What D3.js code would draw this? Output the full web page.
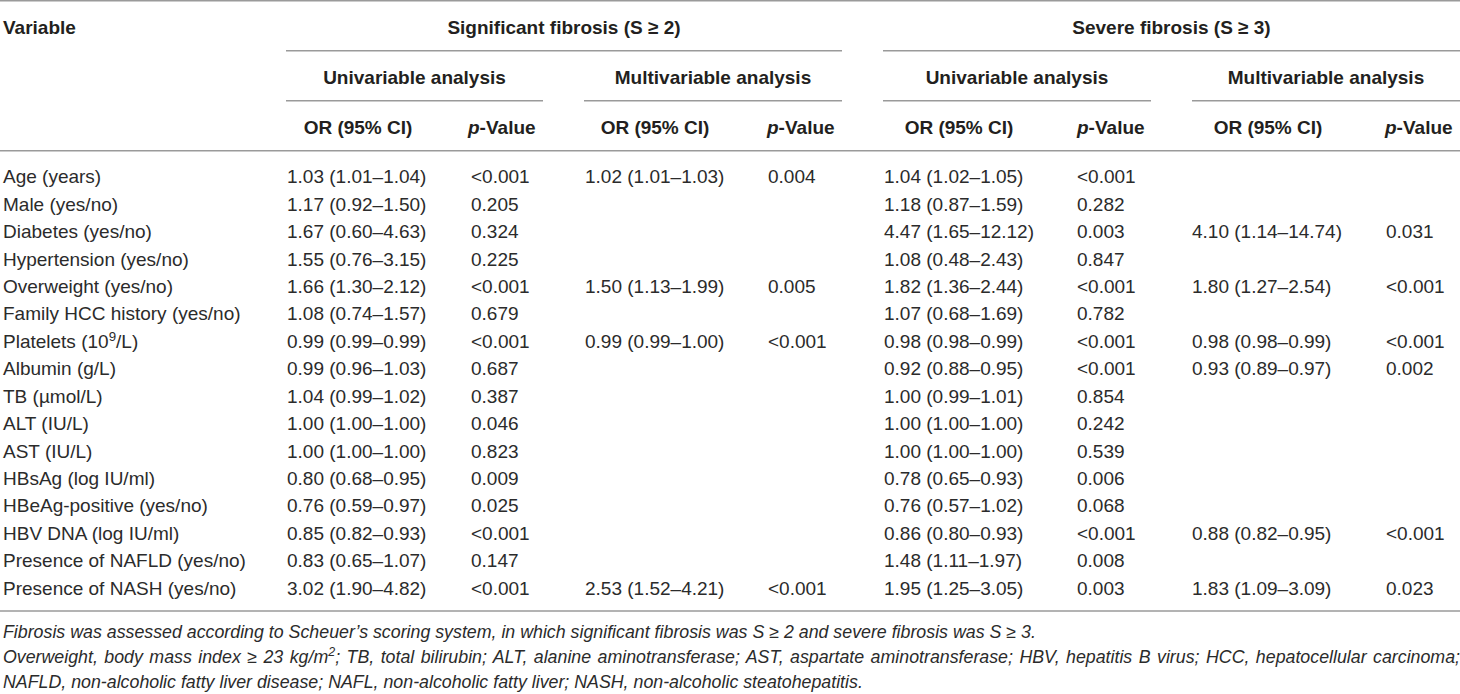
<!DOCTYPE html>
<html lang="en">
<head>
  <meta charset="UTF-8">
  <title>fibrosis table</title>
  <style>
    body {
      margin: 0;
      background: #fff;
    }

    svg text {
      font-family: "Liberation Sans", Arial, sans-serif;
      fill: #231f20;
    }

    .head {
      font-weight: bold;
      font-size: 19px;
    }

    .cell {
      font-size: 19px;
      fill: #2b2b2b;
    }

    .note {
      font-size: 17.8px;
      font-style: italic;
      fill: #2b2b2b;
    }

    .rule {
      stroke: #9a9a9a;
      stroke-width: 1.5;
    }
  </style>
</head>
<body>
  <div id="chart"></div>
  <script src="https://d3js.org/d3.v7.min.js"></script>
  <script>
    // table values
    const variables = ['Age (years)', 'Male (yes/no)', 'Diabetes (yes/no)', 'Hypertension (yes/no)',
      'Overweight (yes/no)', 'Family HCC history (yes/no)', 'Platelets (10^9/L)', 'Albumin (g/L)',
      'TB (\u00b5mol/L)', 'ALT (IU/L)', 'AST (IU/L)', 'HBsAg (log IU/ml)', 'HBeAg-positive (yes/no)',
      'HBV DNA (log IU/ml)', 'Presence of NAFLD (yes/no)', 'Presence of NASH (yes/no)']

    const sigUniOR = ['1.03 (1.01–1.04)', '1.17 (0.92–1.50)', '1.67 (0.60–4.63)', '1.55 (0.76–3.15)',
      '1.66 (1.30–2.12)', '1.08 (0.74–1.57)', '0.99 (0.99–0.99)', '0.99 (0.96–1.03)', '1.04 (0.99–1.02)',
      '1.00 (1.00–1.00)', '1.00 (1.00–1.00)', '0.80 (0.68–0.95)', '0.76 (0.59–0.97)', '0.85 (0.82–0.93)',
      '0.83 (0.65–1.07)', '3.02 (1.90–4.82)']
    const sigUniP = ['<0.001', '0.205', '0.324', '0.225', '<0.001', '0.679', '<0.001', '0.687', '0.387',
      '0.046', '0.823', '0.009', '0.025', '<0.001', '0.147', '<0.001']

    const sigMultiOR = ['1.02 (1.01–1.03)', '', '', '', '1.50 (1.13–1.99)', '', '0.99 (0.99–1.00)', '',
      '', '', '', '', '', '', '', '2.53 (1.52–4.21)']
    const sigMultiP = ['0.004', '', '', '', '0.005', '', '<0.001', '', '', '', '', '', '', '', '', '<0.001']

    const sevUniOR = ['1.04 (1.02–1.05)', '1.18 (0.87–1.59)', '4.47 (1.65–12.12)', '1.08 (0.48–2.43)',
      '1.82 (1.36–2.44)', '1.07 (0.68–1.69)', '0.98 (0.98–0.99)', '0.92 (0.88–0.95)', '1.00 (0.99–1.01)',
      '1.00 (1.00–1.00)', '1.00 (1.00–1.00)', '0.78 (0.65–0.93)', '0.76 (0.57–1.02)', '0.86 (0.80–0.93)',
      '1.48 (1.11–1.97)', '1.95 (1.25–3.05)']
    const sevUniP = ['<0.001', '0.282', '0.003', '0.847', '<0.001', '0.782', '<0.001', '<0.001', '0.854',
      '0.242', '0.539', '0.006', '0.068', '<0.001', '0.008', '0.003']

    const sevMultiOR = ['', '', '4.10 (1.14–14.74)', '', '1.80 (1.27–2.54)', '', '0.98 (0.98–0.99)',
      '0.93 (0.89–0.97)', '', '', '', '', '', '0.88 (0.82–0.95)', '', '1.83 (1.09–3.09)']
    const sevMultiP = ['', '', '0.031', '', '<0.001', '', '<0.001', '0.002', '', '', '', '', '', '<0.001',
      '', '0.023']

    const groupLabels = ['Significant fibrosis (S \u2265 2)', 'Severe fibrosis (S \u2265 3)']
    const analysisLabels = ['Univariable analysis', 'Multivariable analysis',
      'Univariable analysis', 'Multivariable analysis']
    const footnotes = [
      'Fibrosis was assessed according to Scheuer\u2019s scoring system, in which significant fibrosis was S \u2265 2 and severe fibrosis was S \u2265 3.',
      'Overweight, body mass index \u2265 23 kg/m^2; TB, total bilirubin; ALT, alanine aminotransferase; AST, aspartate aminotransferase; HBV, hepatitis B virus; HCC, hepatocellular carcinoma;',
      'NAFLD, non-alcoholic fatty liver disease; NAFL, non-alcoholic fatty liver; NASH, non-alcoholic steatohepatitis.'
    ]

    const W = 1460, H = 694

    const svg = d3.select('#chart').append('svg')
      .attr('width', W)
      .attr('height', H)

    // layout of the columns (left edge of data, header centre)
    const cols = [
      { data: sigUniOR, x: 287, hx: 358, head: 'or' },
      { data: sigUniP, x: 471, hx: 468, head: 'p' },
      { data: sigMultiOR, x: 585, hx: 655, head: 'or' },
      { data: sigMultiP, x: 768, hx: 767, head: 'p' },
      { data: sevUniOR, x: 884, hx: 959, head: 'or' },
      { data: sevUniP, x: 1077, hx: 1077, head: 'p' },
      { data: sevMultiOR, x: 1192, hx: 1268, head: 'or' },
      { data: sevMultiP, x: 1386, hx: 1385, head: 'p' }
    ]
    const groupSpans = [[286, 842], [883, 1460]]
    const analysisSpans = [[286, 543], [584, 842], [883, 1151], [1192, 1460]]

    const yRow = d3.scalePoint()
      .domain(d3.range(variables.length))
      .range([176.7, 588])

    // rules
    const rules = [[0, W, 0.8], [0, W, 150.7], [0, W, 611]]
    groupSpans.forEach(s => rules.push([s[0], s[1], 50.7]))
    analysisSpans.forEach(s => rules.push([s[0], s[1], 100.7]))
    svg.selectAll('.rule')
      .data(rules)
      .enter()
      .append('line')
      .attr('class', 'rule')
      .attr('x1', d => d[0])
      .attr('x2', d => d[1])
      .attr('y1', d => d[2])
      .attr('y2', d => d[2])

    // header
    svg.append('text')
      .attr('class', 'head')
      .attr('x', 3)
      .attr('y', 27)
      .attr('dy', '0.35em')
      .text('Variable')

    svg.selectAll('.group')
      .data(groupLabels)
      .enter()
      .append('text')
      .attr('class', 'head group')
      .attr('x', (d, i) => (groupSpans[i][0] + groupSpans[i][1]) / 2)
      .attr('y', 27)
      .attr('dy', '0.35em')
      .attr('text-anchor', 'middle')
      .text(d => d)

    svg.selectAll('.analysis')
      .data(analysisLabels)
      .enter()
      .append('text')
      .attr('class', 'head analysis')
      .attr('x', (d, i) => (analysisSpans[i][0] + analysisSpans[i][1]) / 2)
      .attr('y', 77)
      .attr('dy', '0.35em')
      .attr('text-anchor', 'middle')
      .text(d => d)

    cols.forEach(c => {
      let t = svg.append('text')
        .attr('class', 'head')
        .attr('y', 127)
        .attr('dy', '0.35em')
      if (c.head === 'or') {
        t.attr('x', c.hx).attr('text-anchor', 'middle').text('OR (95% CI)')
      } else {
        t.attr('x', c.hx)
        t.append('tspan').style('font-style', 'italic').text('p')
        t.append('tspan').text('-Value')
      }
    })

    // writes text with ^x as a superscript
    function withSup(sel, s) {
      let parts = s.split(/\^(\d)/)
      parts.forEach((p, i) => {
        if (i % 2 === 1) {
          sel.append('tspan')
            .attr('baseline-shift', 'super')
            .style('font-size', '70%')
            .text(p)
        } else if (p !== '') {
          sel.append('tspan').text(p)
        }
      })
    }

    // body
    svg.selectAll('.var')
      .data(variables)
      .enter()
      .append('text')
      .attr('class', 'cell var')
      .attr('x', 3)
      .attr('y', (d, i) => yRow(i))
      .attr('dy', '0.35em')
      .each(function (d) { withSup(d3.select(this), d) })

    cols.forEach(c => {
      svg.append('g')
        .selectAll('text')
        .data(c.data)
        .enter()
        .append('text')
        .attr('class', 'cell')
        .attr('x', c.x)
        .attr('y', (d, i) => yRow(i))
        .attr('dy', '0.35em')
        .text(d => d)
    })

    // footnotes
    const notes = svg.selectAll('.note')
      .data(footnotes)
      .enter()
      .append('text')
      .attr('class', 'note')
      .attr('x', 3)
      .attr('y', (d, i) => 632 + i * 25)
      .attr('dy', '0.35em')
      .each(function (d) { withSup(d3.select(this), d) })

    // second line is justified to the full width
    const justified = notes.filter((d, i) => i === 1)
    const len = justified.node().getComputedTextLength()
    const gaps = footnotes[1].split(' ').length - 1
    justified.style('word-spacing', ((W - 3 - len) / gaps) + 'px')
  </script>
</body>
</html>
